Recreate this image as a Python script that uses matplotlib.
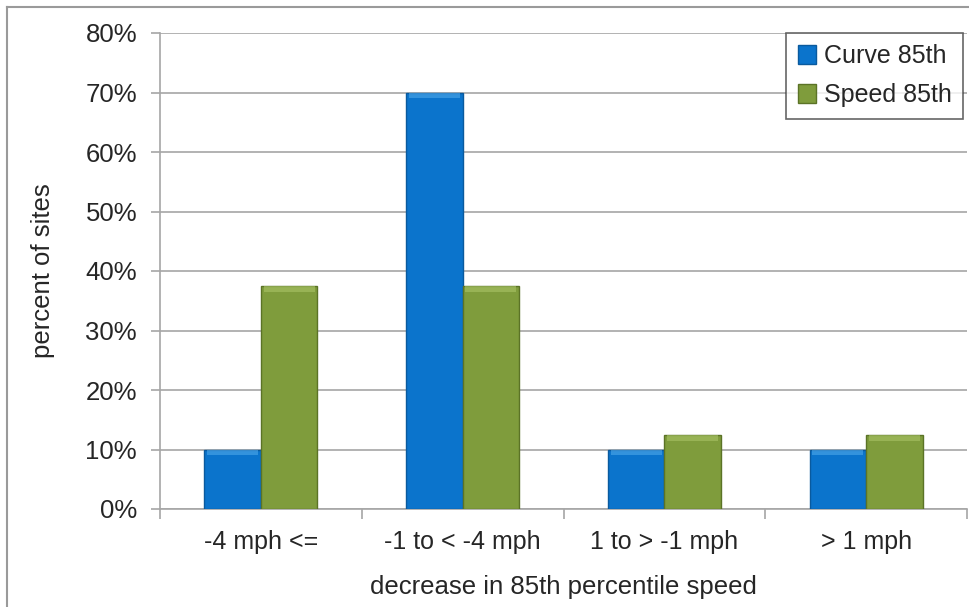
import matplotlib
matplotlib.use("Agg")
import matplotlib.pyplot as plt
import numpy as np
from matplotlib.lines import Line2D

categories = ["-4 mph <=", "-1 to < -4 mph", "1 to > -1 mph", "> 1 mph"]
curve_85th = [10, 70, 10, 10]
speed_85th = [37.5, 37.5, 12.5, 12.5]
y_ticks = [0, 10, 20, 30, 40, 50, 60, 70, 80]

plt.rcParams['font.family'] = ['Liberation Sans', 'DejaVu Sans']

W, H = 969, 607
fig = plt.figure(figsize=(W/100, H/100), dpi=100)
ax = fig.add_axes([160/W, 1-509/H, (967-160)/W, (509-33)/H])

x = np.arange(len(categories))
bw = 0.28
series = [
    ("Curve 85th", curve_85th, -bw/2, "#0B74CC", "#0A5A9E", "#4FA8EA"),
    ("Speed 85th", speed_85th, bw/2, "#7F9C3C", "#5B7326", "#A9C466"),
]
for name, vals, off, col, edge, light in series:
    ax.bar(x + off, vals, bw, color=col, edgecolor=edge, linewidth=1.0, label=name, zorder=3)
    # bevel highlight at top of each bar
    cap = 0.9
    ax.bar(x + off, [cap]*len(vals), bw*0.9, bottom=np.array(vals) - cap - 0.1,
           color=light, edgecolor='none', zorder=4, alpha=0.6)

ax.set_xlim(-0.5, len(categories) - 0.5)
ax.set_ylim(0, 80)
ax.set_yticks(y_ticks)
ax.set_yticklabels([f"{t}%" for t in y_ticks])
ax.set_xticks(x)
ax.set_xticklabels(categories)
ax.set_xticks(np.arange(len(categories) + 1) - 0.5, minor=True)

ax.yaxis.grid(True, color="#A6A6A6", linewidth=1.2, zorder=0)
ax.set_axisbelow(True)

for s in ["top", "right"]:
    ax.spines[s].set_visible(False)
for s in ["left", "bottom"]:
    ax.spines[s].set_color("#A6A6A6")
    ax.spines[s].set_linewidth(1.2)

ax.tick_params(axis='y', which='major', length=6.5, width=1.2, color="#A6A6A6",
               labelsize=18.5, labelcolor="#262626", pad=10)
ax.tick_params(axis='x', which='major', length=0, labelsize=18, labelcolor="#262626", pad=15)
ax.tick_params(axis='x', which='minor', length=7, width=1.2, color="#A6A6A6")

ax.set_ylabel("percent of sites", fontsize=18.5, color="#262626", labelpad=22)
ax.set_xlabel("decrease in 85th percentile speed", fontsize=18.5, color="#262626", labelpad=15)

leg = ax.legend(loc="upper right", bbox_to_anchor=(0.995, 1.0), frameon=True, fancybox=False,
                fontsize=18, handlelength=0.75, handleheight=0.75, handletextpad=0.3,
                borderpad=0.45, labelspacing=0.6, borderaxespad=0)
leg.get_frame().set_edgecolor("#404040")
leg.get_frame().set_linewidth(1.2)
for t in leg.get_texts():
    t.set_color("#262626")

# outer chart border (left and top visible)
fig.add_artist(Line2D([7/W, 7/W], [0, 1-7/H], color="#9A9A9A", linewidth=1.5, transform=fig.transFigure))
fig.add_artist(Line2D([7/W, 1], [1-7/H, 1-7/H], color="#9A9A9A", linewidth=1.5, transform=fig.transFigure))

fig.savefig("out.png", dpi=100)
